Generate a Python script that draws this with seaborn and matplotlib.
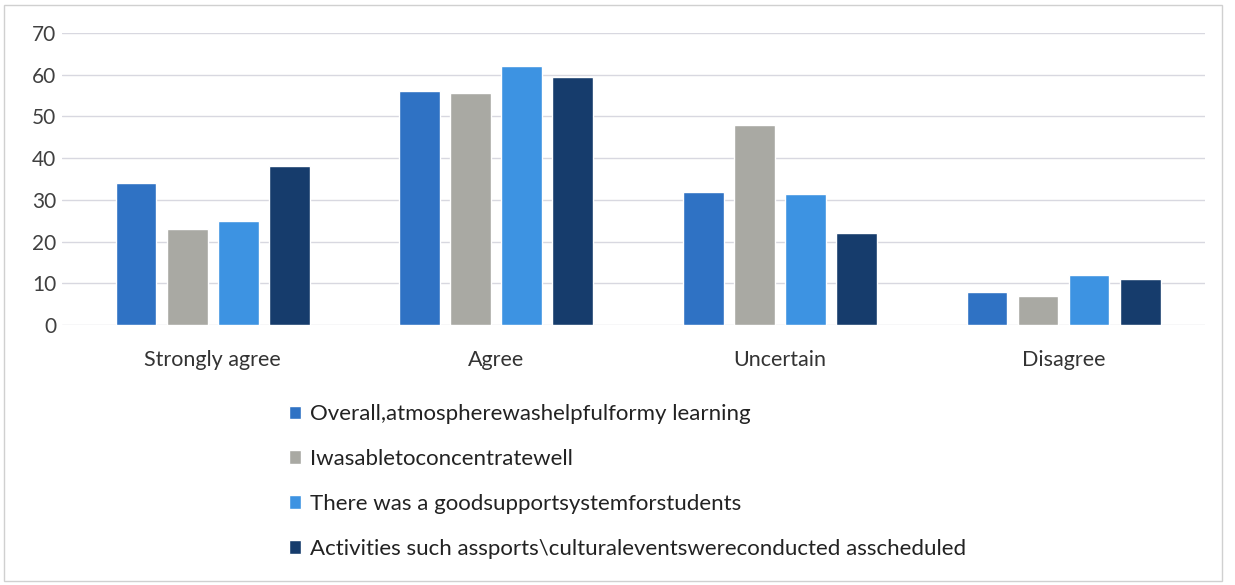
import matplotlib
matplotlib.use("Agg")
import matplotlib.pyplot as plt
from matplotlib.patches import Rectangle
import seaborn as sns
import pandas as pd

categories = ["Strongly agree", "Agree", "Uncertain", "Disagree"]
series_names = [
    "Overall,atmospherewashelpfulformy learning",
    "Iwasabletoconcentratewell",
    "There was a goodsupportsystemforstudents",
    "Activities such assports\\culturaleventswereconducted asscheduled",
]
overall = [34, 56, 32, 8]
concentrate = [23, 55.5, 48, 7]
support = [25, 62, 31.5, 12]
activities = [38, 59.5, 22, 11]
colors = ["#2F72C4", "#A9A9A3", "#3D93E2", "#163C6C"]
yticks = [0, 10, 20, 30, 40, 50, 60, 70]

values = [overall, concentrate, support, activities]
rows = []
for name, vals in zip(series_names, values):
    for cat, v in zip(categories, vals):
        rows.append({"Category": cat, "Series": name, "Value": v})
df = pd.DataFrame(rows)

sns.set_theme(style="white")
plt.rcParams["font.family"] = ["Lato", "DejaVu Sans"]

fig = plt.figure(figsize=(12.35, 5.85), dpi=100)
ax = fig.add_axes([0.050, 0.444, 0.926, 0.500])

sns.barplot(data=df, x="Category", y="Value", hue="Series",
            hue_order=series_names, order=categories,
            palette=colors, width=0.72, gap=0.2, saturation=1,
            ax=ax, legend=True)

ax.set_ylim(0, 70)
ax.set_xlim(-0.532, 3.5)
ax.set_yticks(yticks)
ax.set_yticklabels([str(t) for t in yticks])
ax.yaxis.grid(True, color="#D8D8E0", linewidth=1)
ax.set_axisbelow(True)
for s in ax.spines.values():
    s.set_visible(False)
ax.set_xlabel("")
ax.set_ylabel("")
ax.tick_params(axis="x", length=0, pad=18, labelsize=15.5, labelcolor="#333333")
ax.tick_params(axis="y", length=0, pad=4, labelsize=15, labelcolor="#404040")

handles, labels = ax.get_legend_handles_labels()
ax.get_legend().remove()
fig.legend(handles, labels, loc="upper left",
           bbox_to_anchor=(278 / 1235, 1 - 393 / 585),
           frameon=False, fontsize=16, labelcolor="#222222",
           handlelength=0.55, handleheight=0.55, handletextpad=0.4,
           labelspacing=1.12, borderpad=0)

fig.patches.append(Rectangle((4 / 1235, 4 / 585), 1218 / 1235, 576 / 585,
                             transform=fig.transFigure, fill=False,
                             edgecolor="#D0D0D0", linewidth=1))

fig.savefig("out.png", dpi=100)
